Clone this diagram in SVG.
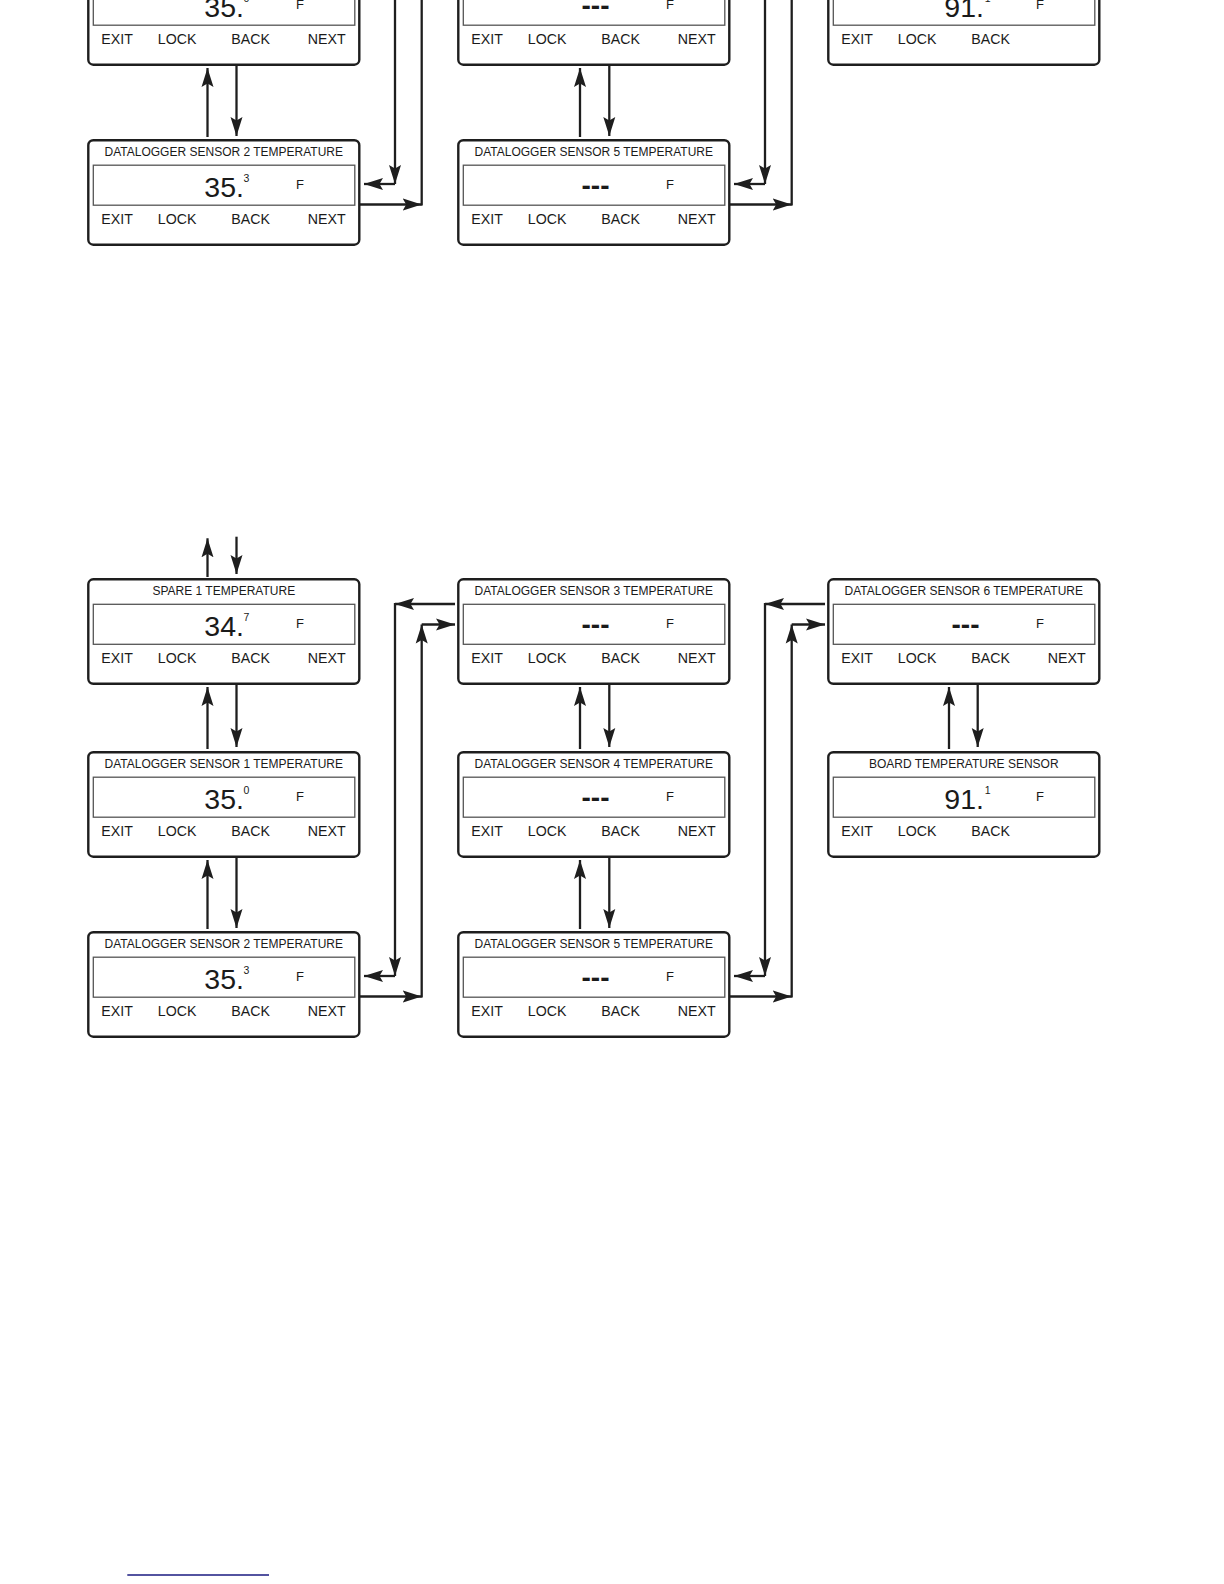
<svg xmlns="http://www.w3.org/2000/svg" width="1224" height="1584" viewBox="0 0 1224 1584">
<style>
.box{fill:#fff;stroke:#1e1e1e;stroke-width:2.4}
.lcd{fill:none;stroke:#555;stroke-width:1.3}
text{font-family:"Liberation Sans",Arial,sans-serif;fill:#1a1a1a}
.title{font-size:12px;text-anchor:middle}
.val{font-size:28.5px}
.dash{font-size:28px;font-weight:bold}
.sup{font-size:10.5px}
.unit{font-size:13px}
.btn{font-size:14.2px}
.c line{stroke:#1e1e1e;stroke-width:2.3;marker-end:url(#ah)}
</style>
<defs>
<marker id="ah" markerUnits="userSpaceOnUse" viewBox="0 -7 19 14" markerWidth="19" markerHeight="14" refX="19" refY="0" orient="auto">
<path d="M19,0 L0,-6 L3.5,0 L0,6 Z" fill="#1e1e1e"/>
</marker>
</defs>
<rect width="1224" height="1584" fill="#fff"/>

<!-- TOP SECTION (continuation from previous page) -->
<g id="top-section">
<g id="t-ds1" transform="translate(88.3,-39.8)">
<rect class="box" width="271" height="104.5" rx="5"/>
<text class="title" x="135.5" y="15.5">DATALOGGER SENSOR 1 TEMPERATURE</text>
<rect class="lcd" x="5" y="25" width="261.5" height="40"/>
<text class="val" x="116" y="56.5">35.</text><text class="sup" x="155.2" y="42">0</text>
<text class="unit" x="207.7" y="49">F</text>
<text class="btn" x="13" y="84">EXIT</text><text class="btn" x="69.5" y="84">LOCK</text><text class="btn" x="143" y="84">BACK</text><text class="btn" x="219.5" y="84">NEXT</text>
</g>
<g id="t-ds2" transform="translate(88.3,140.2)">
<rect class="box" width="271" height="104.5" rx="5"/>
<text class="title" x="135.5" y="15.5">DATALOGGER SENSOR 2 TEMPERATURE</text>
<rect class="lcd" x="5" y="25" width="261.5" height="40"/>
<text class="val" x="116" y="56.5">35.</text><text class="sup" x="155.2" y="42">3</text>
<text class="unit" x="207.7" y="49">F</text>
<text class="btn" x="13" y="84">EXIT</text><text class="btn" x="69.5" y="84">LOCK</text><text class="btn" x="143" y="84">BACK</text><text class="btn" x="219.5" y="84">NEXT</text>
</g>
<g id="t-ds4" transform="translate(458.3,-39.8)">
<rect class="box" width="271" height="104.5" rx="5"/>
<text class="title" x="135.5" y="15.5">DATALOGGER SENSOR 4 TEMPERATURE</text>
<rect class="lcd" x="5" y="25" width="261.5" height="40"/>
<text class="dash" x="123.2" y="54.5">---</text>
<text class="unit" x="207.7" y="49">F</text>
<text class="btn" x="13" y="84">EXIT</text><text class="btn" x="69.5" y="84">LOCK</text><text class="btn" x="143" y="84">BACK</text><text class="btn" x="219.5" y="84">NEXT</text>
</g>
<g id="t-ds5" transform="translate(458.3,140.2)">
<rect class="box" width="271" height="104.5" rx="5"/>
<text class="title" x="135.5" y="15.5">DATALOGGER SENSOR 5 TEMPERATURE</text>
<rect class="lcd" x="5" y="25" width="261.5" height="40"/>
<text class="dash" x="123.2" y="54.5">---</text>
<text class="unit" x="207.7" y="49">F</text>
<text class="btn" x="13" y="84">EXIT</text><text class="btn" x="69.5" y="84">LOCK</text><text class="btn" x="143" y="84">BACK</text><text class="btn" x="219.5" y="84">NEXT</text>
</g>
<g id="t-board" transform="translate(828.3,-39.8)">
<rect class="box" width="271" height="104.5" rx="5"/>
<text class="title" x="135.5" y="15.5">BOARD TEMPERATURE SENSOR</text>
<rect class="lcd" x="5" y="25" width="261.5" height="40"/>
<text class="val" x="116" y="56.5">91.</text><text class="sup" x="156.5" y="42">1</text>
<text class="unit" x="207.7" y="49">F</text>
<text class="btn" x="13" y="84">EXIT</text><text class="btn" x="69.5" y="84">LOCK</text><text class="btn" x="143" y="84">BACK</text>
</g>
<g id="t-connectors" class="c">
<line x1="207.5" y1="137" x2="207.5" y2="68"/>
<line x1="236.5" y1="66" x2="236.5" y2="136"/>
<line x1="580" y1="137" x2="580" y2="68"/>
<line x1="609.3" y1="66" x2="609.3" y2="136"/>
<line x1="395" y1="-2" x2="395" y2="184"/>
<line x1="395" y1="184" x2="364" y2="184"/>
<line x1="360" y1="204.5" x2="421.7" y2="204.5"/>
<line x1="421.7" y1="205.5" x2="421.7" y2="-2" style="marker-end:none"/>
<line x1="765" y1="-2" x2="765" y2="184"/>
<line x1="765" y1="184" x2="734" y2="184"/>
<line x1="730" y1="204.5" x2="791.7" y2="204.5"/>
<line x1="791.7" y1="205.5" x2="791.7" y2="-2" style="marker-end:none"/>
</g>
</g>

<!-- BOTTOM SECTION -->
<g id="spare1" transform="translate(88.3,579.3)">
<rect class="box" width="271" height="104.5" rx="5"/>
<text class="title" x="135.5" y="15.5">SPARE 1 TEMPERATURE</text>
<rect class="lcd" x="5" y="25" width="261.5" height="40"/>
<text class="val" x="116" y="56.5">34.</text><text class="sup" x="155.2" y="42">7</text>
<text class="unit" x="207.7" y="49">F</text>
<text class="btn" x="13" y="84">EXIT</text><text class="btn" x="69.5" y="84">LOCK</text><text class="btn" x="143" y="84">BACK</text><text class="btn" x="219.5" y="84">NEXT</text>
</g>
<g id="ds1" transform="translate(88.3,752.2)">
<rect class="box" width="271" height="104.5" rx="5"/>
<text class="title" x="135.5" y="15.5">DATALOGGER SENSOR 1 TEMPERATURE</text>
<rect class="lcd" x="5" y="25" width="261.5" height="40"/>
<text class="val" x="116" y="56.5">35.</text><text class="sup" x="155.2" y="42">0</text>
<text class="unit" x="207.7" y="49">F</text>
<text class="btn" x="13" y="84">EXIT</text><text class="btn" x="69.5" y="84">LOCK</text><text class="btn" x="143" y="84">BACK</text><text class="btn" x="219.5" y="84">NEXT</text>
</g>
<g id="ds2" transform="translate(88.3,932.2)">
<rect class="box" width="271" height="104.5" rx="5"/>
<text class="title" x="135.5" y="15.5">DATALOGGER SENSOR 2 TEMPERATURE</text>
<rect class="lcd" x="5" y="25" width="261.5" height="40"/>
<text class="val" x="116" y="56.5">35.</text><text class="sup" x="155.2" y="42">3</text>
<text class="unit" x="207.7" y="49">F</text>
<text class="btn" x="13" y="84">EXIT</text><text class="btn" x="69.5" y="84">LOCK</text><text class="btn" x="143" y="84">BACK</text><text class="btn" x="219.5" y="84">NEXT</text>
</g>
<g id="ds3" transform="translate(458.3,579.3)">
<rect class="box" width="271" height="104.5" rx="5"/>
<text class="title" x="135.5" y="15.5">DATALOGGER SENSOR 3 TEMPERATURE</text>
<rect class="lcd" x="5" y="25" width="261.5" height="40"/>
<text class="dash" x="123.2" y="54.5">---</text>
<text class="unit" x="207.7" y="49">F</text>
<text class="btn" x="13" y="84">EXIT</text><text class="btn" x="69.5" y="84">LOCK</text><text class="btn" x="143" y="84">BACK</text><text class="btn" x="219.5" y="84">NEXT</text>
</g>
<g id="ds4" transform="translate(458.3,752.2)">
<rect class="box" width="271" height="104.5" rx="5"/>
<text class="title" x="135.5" y="15.5">DATALOGGER SENSOR 4 TEMPERATURE</text>
<rect class="lcd" x="5" y="25" width="261.5" height="40"/>
<text class="dash" x="123.2" y="54.5">---</text>
<text class="unit" x="207.7" y="49">F</text>
<text class="btn" x="13" y="84">EXIT</text><text class="btn" x="69.5" y="84">LOCK</text><text class="btn" x="143" y="84">BACK</text><text class="btn" x="219.5" y="84">NEXT</text>
</g>
<g id="ds5" transform="translate(458.3,932.2)">
<rect class="box" width="271" height="104.5" rx="5"/>
<text class="title" x="135.5" y="15.5">DATALOGGER SENSOR 5 TEMPERATURE</text>
<rect class="lcd" x="5" y="25" width="261.5" height="40"/>
<text class="dash" x="123.2" y="54.5">---</text>
<text class="unit" x="207.7" y="49">F</text>
<text class="btn" x="13" y="84">EXIT</text><text class="btn" x="69.5" y="84">LOCK</text><text class="btn" x="143" y="84">BACK</text><text class="btn" x="219.5" y="84">NEXT</text>
</g>
<g id="ds6" transform="translate(828.3,579.3)">
<rect class="box" width="271" height="104.5" rx="5"/>
<text class="title" x="135.5" y="15.5">DATALOGGER SENSOR 6 TEMPERATURE</text>
<rect class="lcd" x="5" y="25" width="261.5" height="40"/>
<text class="dash" x="123.2" y="54.5">---</text>
<text class="unit" x="207.7" y="49">F</text>
<text class="btn" x="13" y="84">EXIT</text><text class="btn" x="69.5" y="84">LOCK</text><text class="btn" x="143" y="84">BACK</text><text class="btn" x="219.5" y="84">NEXT</text>
</g>
<g id="board" transform="translate(828.3,752.2)">
<rect class="box" width="271" height="104.5" rx="5"/>
<text class="title" x="135.5" y="15.5">BOARD TEMPERATURE SENSOR</text>
<rect class="lcd" x="5" y="25" width="261.5" height="40"/>
<text class="val" x="116" y="56.5">91.</text><text class="sup" x="156.5" y="42">1</text>
<text class="unit" x="207.7" y="49">F</text>
<text class="btn" x="13" y="84">EXIT</text><text class="btn" x="69.5" y="84">LOCK</text><text class="btn" x="143" y="84">BACK</text>
</g>

<g id="connectors" class="c">
<line x1="207.5" y1="577" x2="207.5" y2="538.3"/>
<line x1="236.5" y1="536.7" x2="236.5" y2="574"/>
<line x1="207.5" y1="749" x2="207.5" y2="687"/>
<line x1="236.5" y1="685" x2="236.5" y2="747"/>
<line x1="207.5" y1="929" x2="207.5" y2="860"/>
<line x1="236.5" y1="858" x2="236.5" y2="928"/>
<line x1="580" y1="749" x2="580" y2="687"/>
<line x1="609.3" y1="685" x2="609.3" y2="747"/>
<line x1="580" y1="929" x2="580" y2="860"/>
<line x1="609.3" y1="858" x2="609.3" y2="928"/>
<line x1="949" y1="749" x2="949" y2="687"/>
<line x1="977.7" y1="685" x2="977.7" y2="747"/>
<!-- col1-col2 back path -->
<line x1="455" y1="604" x2="395" y2="604"/>
<line x1="395" y1="603" x2="395" y2="976"/>
<line x1="395" y1="976" x2="364" y2="976"/>
<!-- col1-col2 next path -->
<line x1="360" y1="996.5" x2="421.7" y2="996.5"/>
<line x1="421.7" y1="997.5" x2="421.7" y2="624.5"/>
<line x1="421.7" y1="624.5" x2="455" y2="624.5"/>
<!-- col2-col3 back path -->
<line x1="825" y1="604" x2="765" y2="604"/>
<line x1="765" y1="603" x2="765" y2="976"/>
<line x1="765" y1="976" x2="734" y2="976"/>
<!-- col2-col3 next path -->
<line x1="730" y1="996.5" x2="791.7" y2="996.5"/>
<line x1="791.7" y1="997.5" x2="791.7" y2="624.5"/>
<line x1="791.7" y1="624.5" x2="825" y2="624.5"/>
</g>

<line x1="127.3" y1="1575" x2="269" y2="1575" stroke="#1a1a80" stroke-width="1.6"/>
</svg>
